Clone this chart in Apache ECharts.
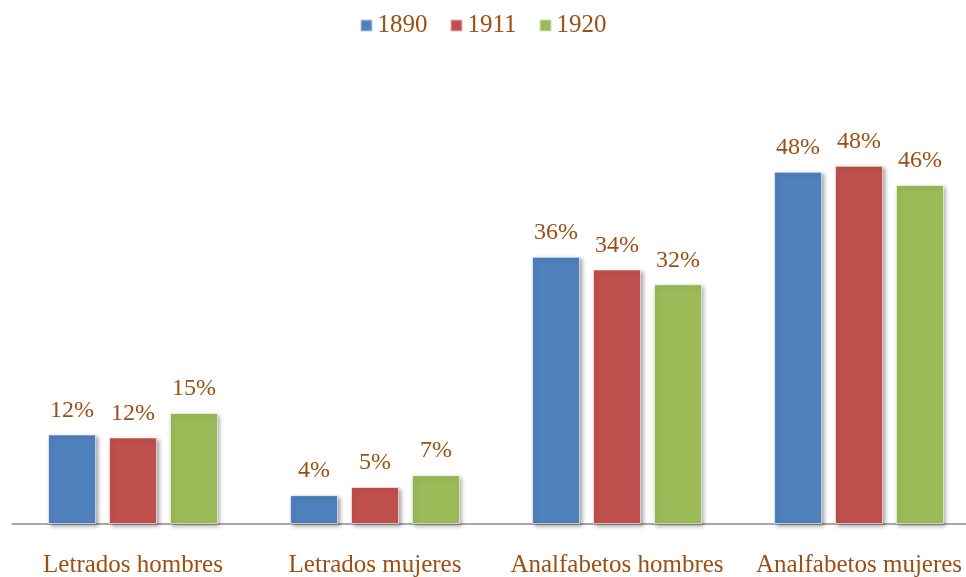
<!DOCTYPE html>
<html>
<head>
<meta charset="utf-8">
<script src="https://cdn.jsdelivr.net/npm/echarts@6/dist/echarts.min.js"></script>
<style>
  html, body { margin: 0; padding: 0; background: #fff; }
  #chart { width: 966px; height: 577px; }
</style>
</head>
<body>
<div id="chart"></div>
<script>
// datos (porcentajes)
var categorias = ['Letrados hombres', 'Letrados mujeres', 'Analfabetos hombres', 'Analfabetos mujeres'];
var anios = ['1890', '1911', '1920'];
var serie1890 = [12.1, 3.9, 36.1, 47.6];
var serie1911 = [11.7, 5.0, 34.4, 48.4];
var serie1920 = [15.0, 6.6, 32.4, 45.8];
var colores = ['#4f81bd', '#c0504d', '#9bbb59'];

var textoColor = '#9c4f13';
var fuente = '"Liberation Serif", "DejaVu Serif", serif';

function serie(nombre, datos, color) {
    return {
        name: nombre,
        type: 'bar',
        data: datos,
        barWidth: 48,
        barGap: '27%',
        itemStyle: {
            color: color,
            borderColor: 'rgba(255,255,255,0.6)',
            borderWidth: 1,
            shadowBlur: 4,
            shadowColor: 'rgba(0,0,0,0.35)',
            shadowOffsetX: 2,
            shadowOffsetY: 2
        },
        label: {
            show: true,
            position: 'top',
            distance: 12,
            color: textoColor,
            fontFamily: fuente,
            fontSize: 24,
            formatter: function (p) { return Math.round(p.value) + '%'; }
        }
    };
}

var myChart = echarts.init(document.getElementById('chart'));
var option = {
    backgroundColor: '#fff',
    animation: false,
    legend: {
        top: 8,
        left: 'center',
        itemWidth: 12,
        itemHeight: 12,
        itemGap: 22,
        icon: 'rect',
        textStyle: { color: textoColor, fontFamily: fuente, fontSize: 25 },
        data: anios
    },
    grid: { left: 12, width: 968, top: 80, bottom: 53, containLabel: false, outerBoundsMode: 'none' },
    xAxis: {
        type: 'category',
        data: categorias,
        axisTick: { show: false },
        axisLine: { lineStyle: { color: '#8c8c8c', width: 1.5 } },
        axisLabel: {
            color: textoColor,
            fontFamily: fuente,
            fontSize: 25,
            margin: 29,
            interval: 0
        }
    },
    yAxis: {
        type: 'value',
        min: 0,
        max: 60,
        show: false,
        splitLine: { show: false }
    },
    series: [
        serie(anios[0], serie1890, colores[0]),
        serie(anios[1], serie1911, colores[1]),
        serie(anios[2], serie1920, colores[2])
    ]
};
myChart.setOption(option);
</script>
</body>
</html>
